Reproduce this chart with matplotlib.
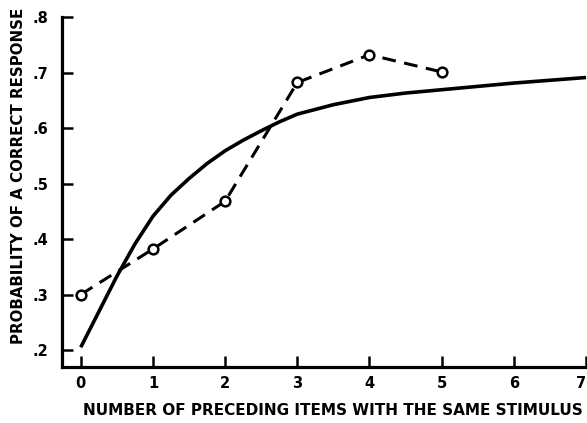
import matplotlib
matplotlib.use("Agg")
import matplotlib.pyplot as plt
from matplotlib.transforms import ScaledTranslation

# Observed data (dashed with open circles)
obs_x = [0, 1, 2, 3, 4, 5]
obs_y = [0.30, 0.382, 0.468, 0.682, 0.732, 0.701]

# Theoretical curve (solid)
fit_x = [0, 0.25, 0.5, 0.75, 1, 1.25, 1.5, 1.75, 2, 2.25, 2.5, 2.75, 3, 3.5, 4, 4.5, 5, 5.5, 6, 6.5, 7]
fit_y = [0.205, 0.269, 0.333, 0.391, 0.441, 0.479, 0.509, 0.536, 0.559, 0.578, 0.595, 0.611, 0.625, 0.642, 0.655, 0.663, 0.669, 0.675, 0.681, 0.686, 0.691]

xticks = [0, 1, 2, 3, 4, 5, 6, 7]
xticklabels = ["0", "1", "2", "3", "4", "5", "6", "7"]
yticks = [0.2, 0.3, 0.4, 0.5, 0.6, 0.7, 0.8]
yticklabels = [".2", ".3", ".4", ".5", ".6", ".7", ".8"]

xlabel = "NUMBER OF PRECEDING ITEMS WITH THE SAME STIMULUS"
ylabel = "PROBABILITY OF A CORRECT RESPONSE"

fig = plt.figure(figsize=(5.87, 4.23), dpi=100)
ax = fig.add_axes([62 / 587, (423 - 366.7) / 423, 524 / 587, 349.7 / 423])

ax.plot(fit_x, fit_y, color="black", lw=2.6, solid_capstyle="butt", solid_joinstyle="round", zorder=2)
ax.plot(obs_x, obs_y, color="black", lw=2.2, linestyle=(0, (4.5, 2.8)), zorder=3,
        marker="o", markersize=7, markerfacecolor="white", markeredgecolor="black",
        markeredgewidth=1.8)

ax.set_xlim(-0.26, 7.0)
ax.set_ylim(0.17, 0.8)

for s in ["top", "right"]:
    ax.spines[s].set_visible(False)
for s in ["left", "bottom"]:
    ax.spines[s].set_linewidth(2.3)

ax.set_xticks(xticks)
ax.set_xticklabels(xticklabels)
ax.set_yticks(yticks)
ax.set_yticklabels(yticklabels)
ax.tick_params(axis="both", direction="in", length=8, width=1.8, labelsize=10.5)
ax.tick_params(axis="x", pad=7)
ax.tick_params(axis="y", pad=10)
for lab in ax.get_xticklabels() + ax.get_yticklabels():
    lab.set_fontweight("bold")
last = ax.get_xticklabels()[-1]
last.set_transform(last.get_transform() + ScaledTranslation(-5 / 100, 0, fig.dpi_scale_trans))

ax.set_xlabel(xlabel, fontsize=11, fontweight="bold", va="center", ha="center")
ax.xaxis.set_label_coords((333 - 62) / 524, (366.7 - 410) / 349.7)
ax.set_ylabel(ylabel, fontsize=10.8, fontweight="bold", va="center", ha="center")
ax.yaxis.set_label_coords((18.5 - 62) / 524, (366.7 - 176) / 349.7)

fig.savefig("out.png", dpi=100)
